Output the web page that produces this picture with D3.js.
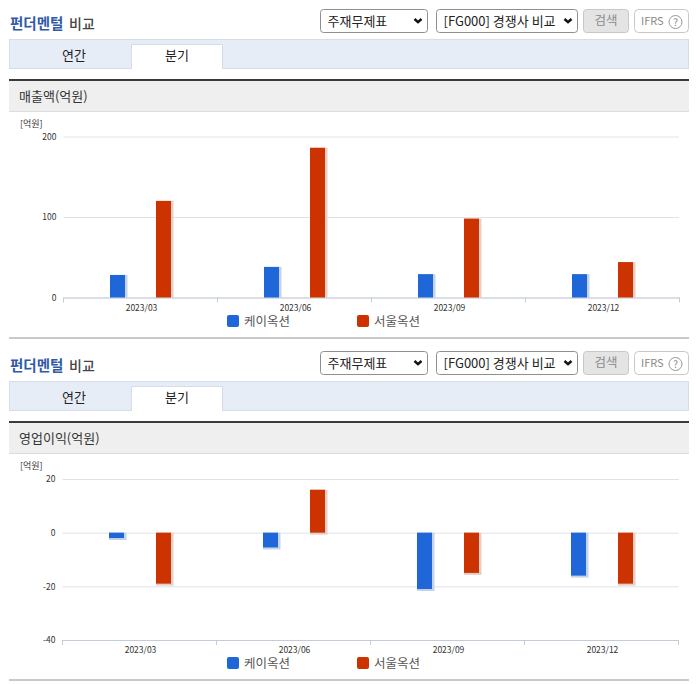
<!DOCTYPE html>
<html><head><meta charset="utf-8">
<script src="https://cdn.jsdelivr.net/npm/d3@7"></script>
<style>
html,body{margin:0;padding:0;background:#fff}
svg{display:block}
text{font-family:"Noto Sans CJK KR","Noto Sans",sans-serif}
</style></head><body>
<svg id="c" width="696" height="684"></svg>
<script>
const periods = ["2023/03","2023/06","2023/09","2023/12"];
const seriesNames = ["케이옥션","서울옥션"];
const seriesColors = ["#1f67d8","#cc3300"];
const shadowColors = ["#c6d2e6","#e4cfc7"];
const revenueKAuction = [28,38,29,29];
const revenueSeoulAuction = [120,186,98,44];
const profitKAuction = [-2,-5.5,-21,-16];
const profitSeoulAuction = [-19,16,-15,-19];
const revenueTicks = [0,100,200];
const profitTicks = [-40,-20,0,20];
const panelTitle = ["펀더멘털","비교"];
const tabLabels = ["연간","분기"];
const selectLabels = ["주재무제표","[FG000] 경쟁사 비교"];
const panels = [
 {top:0,title:"매출액(억원)",a:revenueKAuction,b:revenueSeoulAuction,ticks:revenueTicks,domain:[0,200],yr:[297.5,136.5],xl:63.5,pi:.674,po:1.011,al:.5},
 {top:342,title:"영업이익(억원)",a:profitKAuction,b:profitSeoulAuction,ticks:profitTicks,domain:[-40,20],yr:[640,479],xl:62.5,pi:.681,po:.9785,al:.505}
];
const svg = d3.select("#c");
const T=(g,x,y,s,size,fill,anchor)=>g.append("text").attr("x",x).attr("y",y).text(s).attr("font-size",size).attr("fill",fill).attr("text-anchor",anchor||"start");
const R=(g,x,y,w,h,fill,stroke,r)=>g.append("rect").attr("x",x).attr("y",y).attr("width",w).attr("height",h).attr("fill",fill).attr("stroke",stroke||"none").attr("rx",r||0);

panels.forEach(p=>{
  const g = svg.append("g").attr("transform",`translate(0,${p.top})`);
  T(g,10,29,panelTitle[0],14.5,"#2f5aa8").attr("font-weight",700);
  T(g,69,29,panelTitle[1],14,"#444").attr("font-weight",500);
  const sel=[[320.5,9.5,107,23],[436.5,9.5,141,23]];
  sel.forEach((s,i)=>{
    R(g,s[0],s[1],s[2],s[3],"#fff","#8f8f8f",3);
    T(g,s[0]+7,s[1]+16,selectLabels[i],13,"#222");
    const ax=s[0]+s[2]-9.5, ay=s[1]+9.5;
    g.append("path").attr("d",`M${ax-3.5} ${ay}L${ax} ${ay+3.2}L${ax+3.5} ${ay}`).attr("fill","none").attr("stroke","#111").attr("stroke-width",2.4);
  });
  R(g,583.5,9.5,45,23,"#e4e4e4","#c8c8c8",3);
  T(g,606,25,"검색",12.5,"#8a8a8a","middle");
  R(g,634.5,9.5,54,23,"#fff","#c8c8c8",4);
  T(g,641,25,"IFRS",11,"#888");
  g.append("circle").attr("cx",675.5).attr("cy",22).attr("r",6.5).attr("fill","#fff").attr("stroke","#999");
  T(g,675.5,26,"?",10,"#888","middle");
  R(g,9.5,39.5,679,29,"#e6edf7","#d5dde8");
  g.append("path").attr("d","M131.5 69V44.5H222.5V69").attr("fill","#fff").attr("stroke","#d5dde8");
  g.append("rect").attr("x",132).attr("y",67).attr("width",90).attr("height",3).attr("fill","#fff");
  T(g,74,60,tabLabels[0],13,"#222","middle");
  T(g,177,60,tabLabels[1],13,"#222","middle");
  R(g,9,79,680,2,"#3a3a3a");
  R(g,9,81,680,30,"#efefef");
  R(g,9,111,680,1,"#dddddd");
  T(g,19,101,p.title,13,"#333");
  T(g,20,127,"[억원]",9,"#333");

  const x0=d3.scaleBand().domain(periods).range([p.xl,p.xl+616]);
  const x1=d3.scaleBand().domain(seriesNames).range([0,x0.bandwidth()]).paddingInner(p.pi).paddingOuter(p.po).align(p.al);
  const y=d3.scaleLinear().domain(p.domain).range(p.yr);
  const gy=svg.append("g");
  gy.append("g").attr("transform",`translate(${p.xl},0)`).call(d3.axisLeft(y).tickValues(p.ticks).tickSize(-(679-p.xl)).tickPadding(7).tickFormat(d=>String(d)))
    .call(s=>s.select(".domain").remove())
    .call(s=>s.selectAll("line").attr("stroke","#dfe3e8"))
    .call(s=>s.selectAll("text").attr("font-size",8.5).attr("fill","#333").attr("font-family","'Liberation Sans',sans-serif"));
  const gx=svg.append("g").attr("transform",`translate(0,${p.yr[0]})`);
  gx.call(d3.axisBottom(x0).tickSize(0).tickPadding(7))
    .call(s=>s.select(".domain").attr("stroke","#c3ccd8"))
    .call(s=>s.selectAll("text").attr("dx",1).attr("font-size",8.5).attr("fill","#333").attr("font-family","'Liberation Sans',sans-serif"));
  d3.range(5).forEach(i=>{
    const px=(i<4?x0(periods[i]):p.xl+616);
    gx.append("line").attr("x1",px).attr("x2",px).attr("y1",0).attr("y2",5).attr("stroke","#c3ccd8");
  });
  [p.a,p.b].forEach((vals,si)=>{
    const bars=svg.append("g");
    vals.forEach((v,i)=>{
      const bx=Math.floor(x0(periods[i])+x1(seriesNames[si])+.25);
      const top=Math.min(y(v),y(0)), h=Math.abs(y(v)-y(0));
      const extra = p.domain[0]===0 ? 0 : 2;
      bars.append("rect").attr("x",bx).attr("y",top).attr("width",x1.bandwidth()+2.5).attr("height",h+extra).attr("fill",shadowColors[si]);
      bars.append("rect").attr("x",bx).attr("y",top).attr("width",x1.bandwidth()).attr("height",h).attr("fill",seriesColors[si]);
    });
  });
  [227,357].forEach((lx,i)=>{
    R(g,lx,315,12,12,seriesColors[i],null,2);
    T(g,lx+17,325.5,seriesNames[i],12.5,"#555");
  });
  R(g,9,337,680,2,"#c9c9c9");
});
</script></body></html>
